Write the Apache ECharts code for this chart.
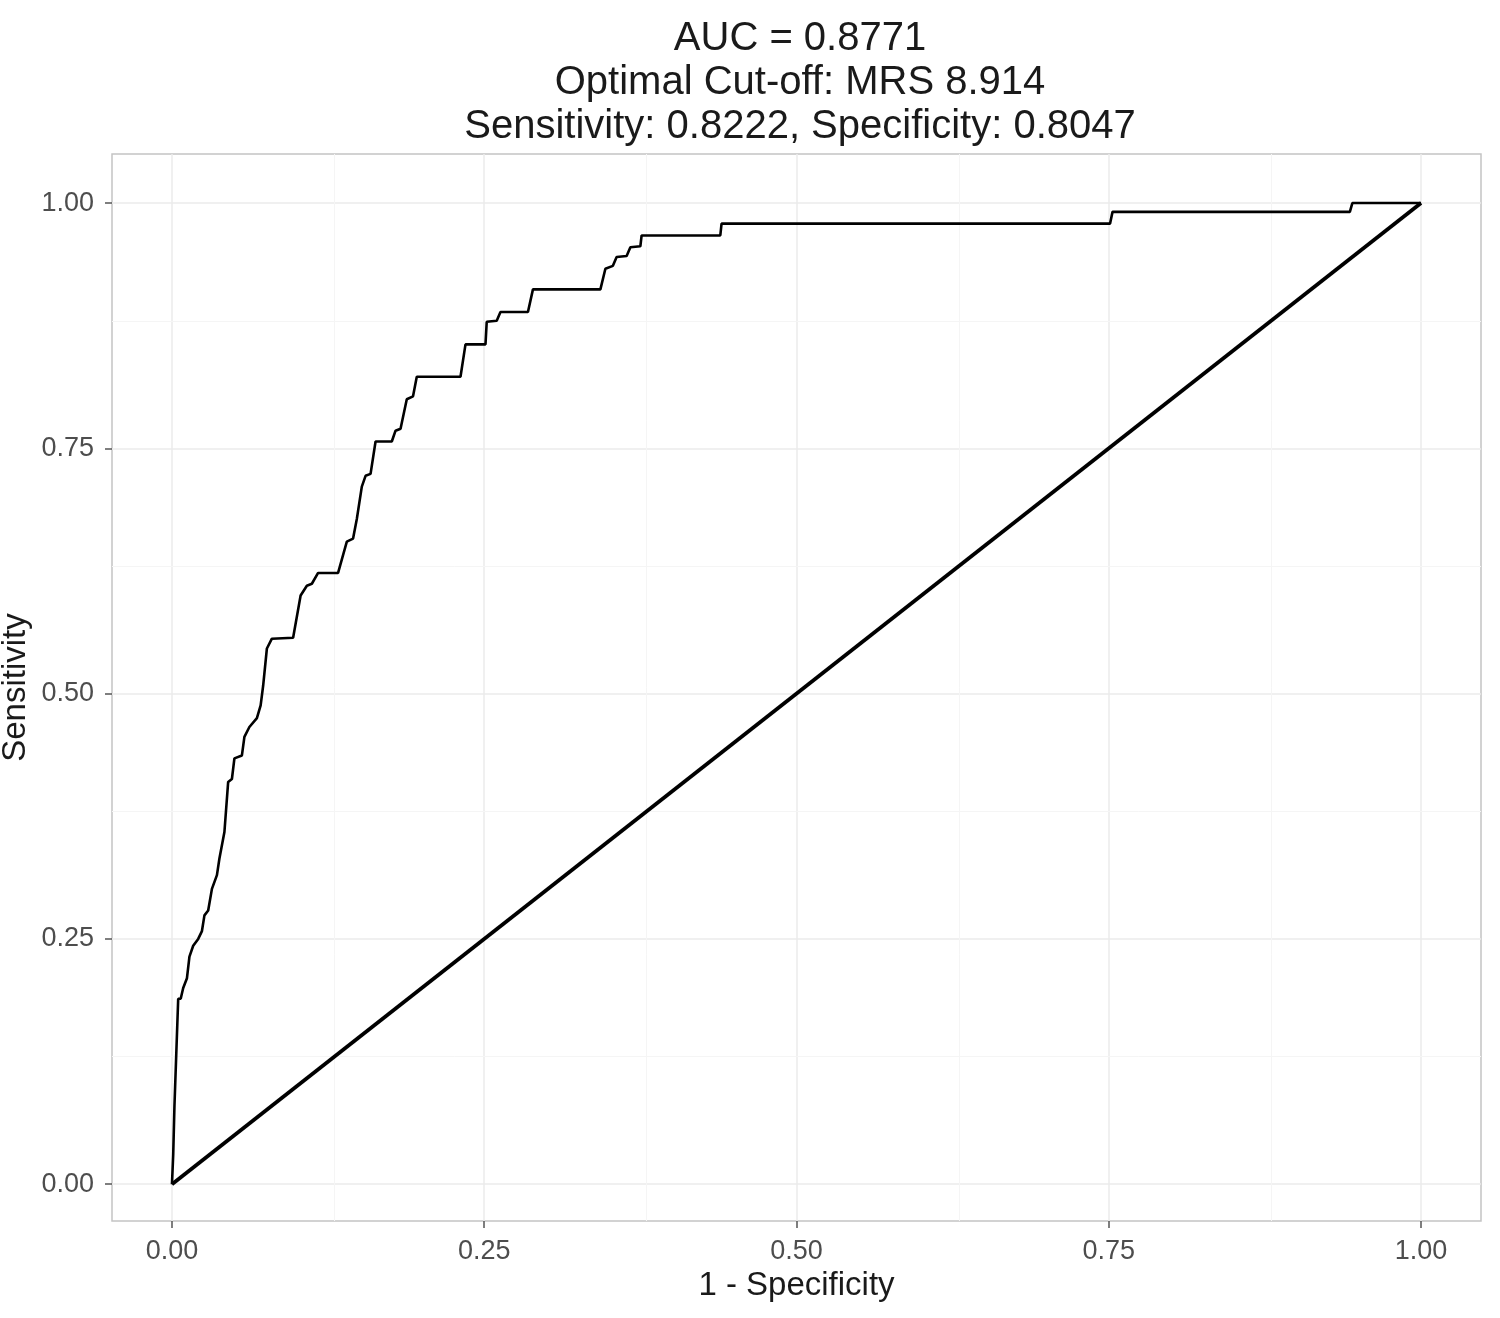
<!DOCTYPE html>
<html>
<head>
<meta charset="utf-8">
<script src="https://cdn.jsdelivr.net/npm/echarts@6/dist/echarts.min.js"></script>
<style>
html,body{margin:0;padding:0;background:#fff;}
#chart{width:1500px;height:1318px;}
</style>
</head>
<body>
<div id="chart"></div>
<script>
// ROC curve points (1 - Specificity, Sensitivity)
const rocFpr = [0, 0.001, 0.002, 0.005, 0.007, 0.009, 0.012, 0.014, 0.017, 0.021, 0.024, 0.026, 0.029, 0.032, 0.036, 0.038, 0.042, 0.045, 0.048, 0.050, 0.056, 0.058, 0.062, 0.068, 0.071, 0.073, 0.076, 0.080, 0.097, 0.103, 0.108, 0.112, 0.117, 0.133, 0.140, 0.145, 0.148, 0.152, 0.155, 0.159, 0.163, 0.176, 0.179, 0.183, 0.188, 0.193, 0.196, 0.231, 0.235, 0.251, 0.252, 0.260, 0.263, 0.285, 0.289, 0.343, 0.347, 0.353, 0.356, 0.364, 0.367, 0.375, 0.376, 0.439, 0.440, 0.751, 0.753, 0.943, 0.945, 1];
const rocTpr = [0, 0.030, 0.080, 0.189, 0.189, 0.200, 0.210, 0.232, 0.243, 0.250, 0.258, 0.274, 0.279, 0.301, 0.315, 0.332, 0.359, 0.410, 0.413, 0.434, 0.437, 0.456, 0.466, 0.475, 0.488, 0.508, 0.546, 0.556, 0.557, 0.600, 0.610, 0.612, 0.623, 0.623, 0.655, 0.658, 0.678, 0.711, 0.722, 0.724, 0.757, 0.757, 0.768, 0.770, 0.800, 0.803, 0.823, 0.823, 0.856, 0.856, 0.879, 0.880, 0.889, 0.889, 0.912, 0.912, 0.933, 0.936, 0.945, 0.946, 0.955, 0.956, 0.967, 0.967, 0.979, 0.979, 0.991, 0.991, 1.0, 1.0];
// Reference (chance) line
const diagFpr = [0, 1];
const diagTpr = [0, 1];
// Ticks
const xTicks = [0, 0.25, 0.5, 0.75, 1];
const yTicks = [0, 0.25, 0.5, 0.75, 1];
const minorTicks = [0.125, 0.375, 0.625, 0.875];

const titleLines = ['AUC = 0.8771', 'Optimal Cut-off: MRS 8.914', 'Sensitivity: 0.8222, Specificity: 0.8047'];
const xTitle = '1 - Specificity';
const yTitle = 'Sensitivity';

const rocData = rocFpr.map((x, i) => [x, rocTpr[i]]);
const diagData = diagFpr.map((x, i) => [x, diagTpr[i]]);

const gridLines = [];
xTicks.forEach(v => gridLines.push({xAxis: v, lineStyle: {color: '#ebebeb', width: 1.5, type: 'solid'}}));
yTicks.forEach(v => gridLines.push({yAxis: v, lineStyle: {color: '#ebebeb', width: 1.5, type: 'solid'}}));
minorTicks.forEach(v => gridLines.push({xAxis: v, lineStyle: {color: '#f5f5f5', width: 1, type: 'solid'}}));
minorTicks.forEach(v => gridLines.push({yAxis: v, lineStyle: {color: '#f5f5f5', width: 1, type: 'solid'}}));

const FONT = '"Liberation Sans", Arial, Helvetica, sans-serif';
const chart = echarts.init(document.getElementById('chart'), null, {renderer: 'canvas'});
chart.setOption({
  backgroundColor: '#ffffff',
  animation: false,
  title: {
    text: titleLines.join('\n'),
    left: 795,
    top: 12,
    textAlign: 'center',
    textStyle: {fontFamily: FONT, fontSize: 40, fontWeight: 'normal', color: '#1a1a1a', lineHeight: 44, align: 'center'}
  },
  grid: {left: 112, right: 19, top: 154, bottom: 97, show: true, borderColor: '#c4c4c4', borderWidth: 1.5, backgroundColor: '#ffffff', containLabel: false, outerBoundsMode: 'none'},
  xAxis: {
    type: 'value', min: -0.048, max: 1.048,
    name: xTitle, nameLocation: 'middle', nameGap: 48, nameMoveOverlap: false,
    nameTextStyle: {fontFamily: FONT, fontSize: 33, color: '#1a1a1a'},
    axisLine: {show: false, onZero: false},
    axisTick: {show: true, inside: false, customValues: xTicks, length: 7, lineStyle: {color: '#555', width: 1.5}},
    axisLabel: {customValues: xTicks, formatter: v => v.toFixed(2), fontFamily: FONT, fontSize: 27, color: '#4d4d4d', margin: 17},
    splitLine: {show: false}
  },
  yAxis: {
    type: 'value', min: -0.0375, max: 1.05,
    name: yTitle, nameLocation: 'middle', nameGap: 80, nameRotate: 90, nameMoveOverlap: false,
    nameTextStyle: {fontFamily: FONT, fontSize: 33, color: '#1a1a1a'},
    axisLine: {show: false, onZero: false},
    axisTick: {show: true, inside: false, customValues: yTicks, length: 7, lineStyle: {color: '#555', width: 1.5}},
    axisLabel: {customValues: yTicks, formatter: v => v.toFixed(2), fontFamily: FONT, fontSize: 27, color: '#4d4d4d', margin: 18},
    splitLine: {show: false}
  },
  series: [
    {type: 'line', data: [], z: 1, silent: true,
     markLine: {silent: true, z: 1, symbol: 'none', label: {show: false}, emphasis: {disabled: true}, data: gridLines, animation: false}},
    {type: 'line', data: diagData, showSymbol: false, z: 3,
     lineStyle: {color: '#000', width: 3.8}},
    {type: 'line', data: rocData, showSymbol: false, z: 4,
     lineStyle: {color: '#000', width: 2.6}}
  ]
});
</script>
</body>
</html>
